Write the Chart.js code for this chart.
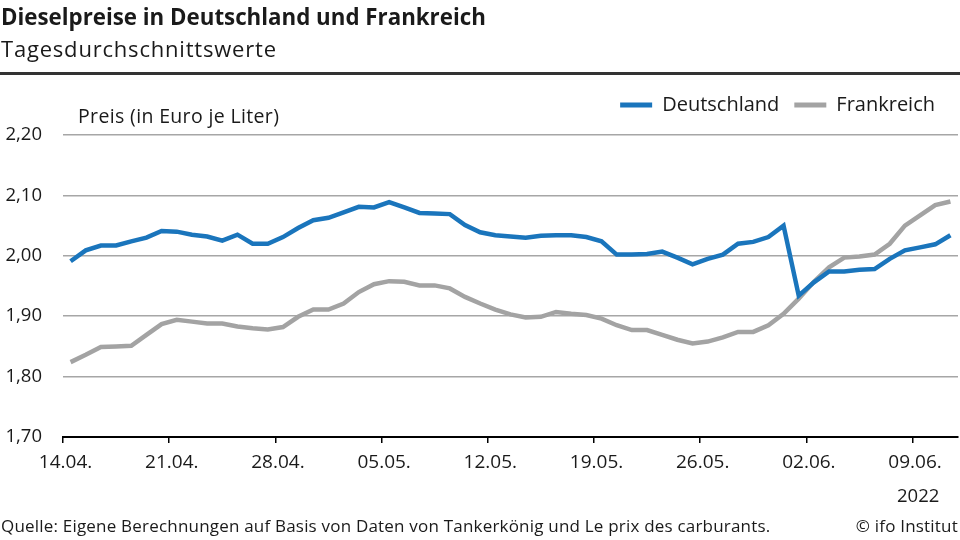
<!DOCTYPE html>
<html lang="de">
<head>
<meta charset="utf-8">
<title>Dieselpreise in Deutschland und Frankreich</title>
<script src="https://cdn.jsdelivr.net/npm/chart.js@4"></script>
<style>
    html, body {
        margin: 0;
        padding: 0;
        background: #fff;
    }
    body {
        position: relative;
        width: 960px;
        height: 540px;
        overflow: hidden;
        font-family: "Open Sans", Lato, sans-serif;
        color: #1a1a1a;
    }
    #chartBox {
        position: absolute;
        left: 0;
        top: 0;
        width: 960px;
        height: 540px;
    }
    .txt {
        position: absolute;
        white-space: nowrap;
        line-height: 1;
    }
    #title { left: 1px; top: 6px; font-size: 22.3px; font-weight: bold; }
    #subtitle { left: 1px; top: 37px; font-size: 22px; letter-spacing: 0.8px; }
    #rule { position: absolute; left: 0; top: 72px; width: 960px; height: 3px; background: #333; }
    #axisTitle { left: 78px; top: 106px; font-size: 19.5px; letter-spacing: 0.35px; }
    #year { left: 897px; top: 486px; font-size: 18.5px; }
    #source { left: 1px; top: 517px; font-size: 17px; letter-spacing: 0.2px; }
    #copy { right: 2px; top: 517px; font-size: 17px; letter-spacing: 0.2px; }
</style>
</head>
<body>
<div id="chartBox"><canvas id="dieselChart" width="960" height="540"></canvas></div>
<div class="txt" id="title">Dieselpreise in Deutschland und Frankreich</div>
<div class="txt" id="subtitle">Tagesdurchschnittswerte</div>
<div id="rule"></div>
<div class="txt" id="axisTitle">Preis (in Euro je Liter)</div>
<div class="txt" id="year">2022</div>
<div class="txt" id="source">Quelle: Eigene Berechnungen auf Basis von Daten von Tankerkönig und Le prix des carburants.</div>
<div class="txt" id="copy">© ifo Institut</div>

<script>
// Tage 14.04.2022 bis 11.06.2022
const dates = [
    "14.04.", "15.04.", "16.04.", "17.04.", "18.04.", "19.04.", "20.04.",
    "21.04.", "22.04.", "23.04.", "24.04.", "25.04.", "26.04.", "27.04.",
    "28.04.", "29.04.", "30.04.", "01.05.", "02.05.", "03.05.", "04.05.",
    "05.05.", "06.05.", "07.05.", "08.05.", "09.05.", "10.05.", "11.05.",
    "12.05.", "13.05.", "14.05.", "15.05.", "16.05.", "17.05.", "18.05.",
    "19.05.", "20.05.", "21.05.", "22.05.", "23.05.", "24.05.", "25.05.",
    "26.05.", "27.05.", "28.05.", "29.05.", "30.05.", "31.05.", "01.06.",
    "02.06.", "03.06.", "04.06.", "05.06.", "06.06.", "07.06.", "08.06.",
    "09.06.", "10.06.", "11.06."
];

// Euro je Liter
const deutschland = [
    1.991, 2.009, 2.017, 2.017, 2.024, 2.030, 2.041, 2.040, 2.035, 2.032,
    2.025, 2.035, 2.020, 2.020, 2.031, 2.046, 2.059, 2.063, 2.072, 2.081,
    2.080, 2.089, 2.080, 2.071, 2.070, 2.069, 2.051, 2.039, 2.034, 2.032,
    2.030, 2.033, 2.034, 2.034, 2.031, 2.024, 2.002, 2.002, 2.003, 2.007,
    1.997, 1.986, 1.995, 2.002, 2.020, 2.023, 2.031, 2.050, 1.934, 1.956,
    1.974, 1.974, 1.977, 1.978, 1.995, 2.009, 2.014, 2.019, 2.034
];

const frankreich = [
    1.824, 1.836, 1.849, 1.850, 1.851, 1.869, 1.887, 1.894, 1.891, 1.888,
    1.888, 1.883, 1.880, 1.878, 1.882, 1.899, 1.911, 1.911, 1.921, 1.940,
    1.953, 1.958, 1.957, 1.951, 1.951, 1.946, 1.932, 1.921, 1.911, 1.903,
    1.898, 1.899, 1.907, 1.904, 1.902, 1.896, 1.885, 1.877, 1.877, 1.869,
    1.861, 1.855, 1.858, 1.865, 1.874, 1.874, 1.885, 1.904, 1.929, 1.957,
    1.981, 1.997, 1.999, 2.002, 2.020, 2.050, 2.067, 2.084, 2.090
];

const yTicks = [1.7, 1.8, 1.9, 2.0, 2.1, 2.2];
const labelEvery = 7;

const blue = "#1a75bc";
const grey = "#a3a3a3";
const textColor = "#1a1a1a";
const fontName = "Open Sans";

// etwas Luft unter der Legende und etwas Abstand zum rechten Rand
const legendSpacing = {
    id: "legendSpacing",
    beforeInit(chart) {
        const originalFit = chart.legend.fit;
        chart.legend.fit = function () {
            originalFit.bind(chart.legend)();
            this.height += 10;
            this.lineWidths[0] += 8;
        };
    }
};

const ctx = document.getElementById("dieselChart").getContext("2d");

const dieselChart = new Chart(ctx, {
    type: "line",
    data: {
        labels: dates,
        datasets: [
            {
                label: "Deutschland",
                data: deutschland,
                borderColor: blue,
                backgroundColor: blue,
                borderWidth: 4.5,
                pointRadius: 0,
                tension: 0
            },
            {
                label: "Frankreich",
                data: frankreich,
                borderColor: grey,
                backgroundColor: grey,
                borderWidth: 4.5,
                pointRadius: 0,
                tension: 0
            }
        ]
    },
    options: {
        responsive: false,
        animation: false,
        layout: {
            padding: { top: 80, right: 2, bottom: 63, left: 0 }
        },
        plugins: {
            legend: {
                position: "top",
                align: "end",
                labels: {
                    boxWidth: 32,
                    boxHeight: 5,
                    padding: 15,
                    color: textColor,
                    font: { family: fontName, size: 20 },
                    generateLabels(chart) {
                        const items = Chart.defaults.plugins.legend.labels.generateLabels(chart);
                        items.forEach(item => {
                            item.lineWidth = 0;
                        });
                        return items;
                    }
                }
            },
            tooltip: { enabled: false }
        },
        scales: {
            x: {
                type: "category",
                offset: true,
                afterFit(scale) {
                    scale.height = 40;
                },
                grid: {
                    offset: true,
                    drawOnChartArea: false,
                    drawTicks: true,
                    tickLength: 6,
                    lineWidth: 1.5,
                    color: c => (c.index % labelEvery === 0 ? "#000" : "rgba(0,0,0,0)")
                },
                border: { display: true, color: "#000", width: 2 },
                ticks: {
                    autoSkip: false,
                    maxRotation: 0,
                    labelOffset: -5,
                    padding: 8,
                    color: textColor,
                    font: { family: fontName, size: 19 },
                    callback(value, index) {
                        return index % labelEvery === 0 ? dates[index] : "";
                    }
                }
            },
            y: {
                min: yTicks[0],
                max: yTicks[yTicks.length - 1],
                afterFit(scale) {
                    scale.width = 63;
                },
                afterBuildTicks(scale) {
                    scale.ticks = yTicks.map(v => ({ value: v }));
                },
                grid: {
                    drawTicks: false,
                    color: "#a6a6a6",
                    lineWidth: 1.5
                },
                border: { display: false },
                ticks: {
                    padding: 21,
                    color: textColor,
                    font: { family: fontName, size: 18.5 },
                    callback(value) {
                        return value.toFixed(2).replace(".", ",");
                    }
                }
            }
        }
    },
    plugins: [legendSpacing]
});
</script>
</body>
</html>
